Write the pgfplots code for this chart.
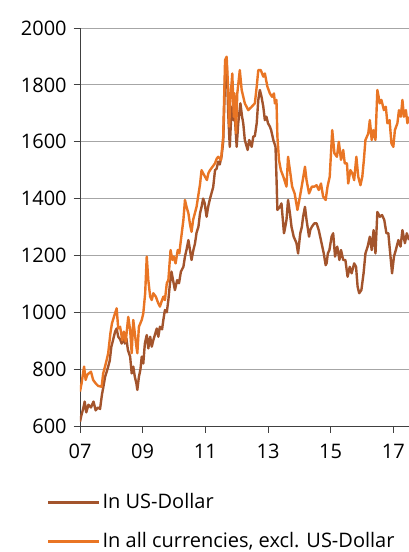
\documentclass[border=0pt]{standalone}
\usepackage{fontspec}
\setmainfont{Open Sans}
\usepackage{pgfplots}
\pgfplotsset{compat=1.18}
\definecolor{usd}{RGB}{163,84,44}
\definecolor{oth}{RGB}{233,117,36}
\begin{document}
\fontsize{20}{24}\selectfont
\begin{tikzpicture}
\begin{axis}[
 scale only axis, width=329pt, height=398pt,
 xmin=2007, xmax=2017.5, ymin=600, ymax=2000,
 axis lines*=left,
 axis line style={draw=black!75, line width=0.8pt},
 xtick={2007,2009,2011,2013,2015,2017}, xticklabels={07,09,11,13,15,17},
 ytick={600,800,...,2000},
 ymajorgrids, grid style={black!35, line width=0.8pt},
 tick align=outside, major tick length=6.5pt,
 tick style={black!75, line width=0.8pt},
 /pgf/number format/assume math mode=true,
 /pgf/number format/1000 sep={},
 ticklabel style={font=\fontsize{20}{24}\selectfont},
 xticklabel style={yshift=-5pt},
 legend cell align=left,
 legend style={draw=none, fill=none, at={(0,0)}, anchor=north west, xshift=-36pt, yshift=-63pt, row sep=17pt, font=\fontsize{20}{24}\selectfont},
 legend image code/.code={\draw[#1] (0pt,0pt) -- (51pt,0pt);},
 every axis plot/.append style={line width=2.4pt, line join=round},
]
\addplot[usd] coordinates {
(2007.00,615)(2007.05,640)(2007.10,660)(2007.15,686)(2007.20,648)(2007.27,675)(2007.35,665)(2007.43,686)(2007.50,655)(2007.57,665)(2007.64,660)(2007.70,710)(2007.75,740)(2007.80,773)(2007.85,790)(2007.90,809)(2007.95,830)
(2008.00,879)(2008.05,900)(2008.12,932)(2008.17,943)(2008.22,914)(2008.28,905)(2008.33,890)(2008.38,926)(2008.43,890)(2008.48,908)(2008.53,867)(2008.60,844)(2008.65,785)(2008.70,809)(2008.75,773)(2008.80,750)(2008.83,727)(2008.88,773)(2008.93,800)(2008.97,844)
(2009.02,820)(2009.07,890)(2009.13,920)(2009.18,873)(2009.24,914)(2009.29,879)(2009.34,902)(2009.45,943)(2009.50,914)(2009.55,949)(2009.62,940)(2009.66,973)(2009.71,1008)(2009.77,1000)(2009.82,1043)(2009.87,1100)(2009.92,1143)(2009.97,1113)
(2010.03,1078)(2010.10,1113)(2010.16,1102)(2010.22,1143)(2010.30,1160)(2010.35,1196)(2010.40,1220)(2010.46,1254)(2010.51,1219)(2010.56,1184)(2010.62,1220)(2010.67,1242)(2010.72,1280)(2010.78,1301)(2010.83,1348)(2010.88,1371)(2010.93,1400)(2010.98,1383)
(2011.04,1336)(2011.09,1371)(2011.15,1400)(2011.20,1420)(2011.25,1440)(2011.31,1500)(2011.36,1505)(2011.41,1530)(2011.46,1520)(2011.52,1550)(2011.57,1600)(2011.63,1820)(2011.68,1880)(2011.73,1700)(2011.78,1582)(2011.84,1723)(2011.89,1676)(2011.93,1711)
(2012.00,1582)(2012.05,1665)(2012.12,1735)(2012.17,1690)(2012.21,1665)(2012.26,1606)(2012.35,1571)(2012.40,1606)(2012.48,1582)(2012.53,1618)(2012.58,1620)(2012.64,1665)(2012.69,1747)(2012.74,1782)(2012.79,1760)(2012.85,1723)(2012.90,1676)(2012.95,1688)
(2013.00,1665)(2013.06,1653)(2013.10,1641)(2013.17,1606)(2013.24,1582)(2013.27,1477)(2013.30,1360)(2013.38,1371)(2013.43,1383)(2013.47,1330)(2013.51,1278)(2013.55,1300)(2013.59,1325)(2013.64,1395)(2013.70,1348)(2013.75,1301)(2013.82,1266)(2013.91,1243)(2013.96,1207)
(2014.03,1278)(2014.08,1300)(2014.12,1336)(2014.18,1371)(2014.23,1325)(2014.31,1266)(2014.35,1290)(2014.40,1301)(2014.48,1313)(2014.55,1313)(2014.62,1289)(2014.71,1243)(2014.78,1207)(2014.84,1166)(2014.87,1172)(2014.91,1207)(2014.96,1219)
(2015.03,1266)(2015.08,1278)(2015.14,1196)(2015.21,1231)(2015.28,1184)(2015.33,1219)(2015.40,1184)(2015.47,1184)(2015.54,1125)(2015.61,1160)(2015.67,1137)(2015.75,1172)(2015.81,1160)(2015.86,1090)(2015.91,1067)(2015.98,1078)
(2016.05,1137)(2016.11,1207)(2016.18,1231)(2016.25,1266)(2016.31,1219)(2016.37,1289)(2016.43,1207)(2016.49,1353)(2016.57,1336)(2016.64,1342)(2016.71,1325)(2016.78,1278)(2016.84,1278)(2016.90,1207)(2016.96,1137)
(2017.02,1196)(2017.08,1219)(2017.16,1254)(2017.23,1231)(2017.29,1289)(2017.37,1243)(2017.43,1278)(2017.50,1254)
};
\addlegendentry{In US-Dollar}
\addplot[oth] coordinates {
(2007.00,721)(2007.05,750)(2007.13,809)(2007.18,762)(2007.23,780)(2007.28,785)(2007.35,791)(2007.42,762)(2007.50,750)(2007.58,741)(2007.69,738)(2007.74,785)(2007.80,810)(2007.85,832)(2007.90,856)(2007.97,926)
(2008.02,961)(2008.10,990)(2008.17,1014)(2008.22,943)(2008.28,949)(2008.35,902)(2008.40,932)(2008.46,897)(2008.54,984)(2008.60,938)(2008.65,856)(2008.70,973)(2008.75,926)(2008.80,879)(2008.83,856)(2008.88,949)(2008.97,973)
(2009.02,996)(2009.08,1067)(2009.13,1196)(2009.18,1113)(2009.24,1055)(2009.29,1043)(2009.34,1067)(2009.42,1055)(2009.50,1031)(2009.55,1020)(2009.61,1040)(2009.66,1055)(2009.71,1043)(2009.77,1102)(2009.82,1113)(2009.89,1219)(2009.95,1184)(2009.99,1196)
(2010.05,1172)(2010.12,1219)(2010.17,1207)(2010.22,1254)(2010.30,1325)(2010.35,1395)(2010.40,1371)(2010.46,1348)(2010.51,1310)(2010.56,1283)(2010.61,1325)(2010.72,1371)(2010.77,1407)(2010.83,1450)(2010.88,1500)(2010.93,1489)(2010.99,1477)
(2011.05,1465)(2011.10,1490)(2011.15,1500)(2011.31,1524)(2011.36,1540)(2011.41,1547)(2011.50,1536)(2011.57,1618)(2011.63,1887)(2011.68,1899)(2011.73,1782)(2011.76,1653)(2011.80,1747)(2011.86,1840)(2011.91,1688)(2011.93,1770)(2011.98,1630)
(2012.02,1770)(2012.10,1852)(2012.16,1782)(2012.26,1735)(2012.37,1711)(2012.48,1723)(2012.58,1735)(2012.64,1794)(2012.69,1852)(2012.77,1852)(2012.85,1829)(2012.90,1840)(2012.98,1794)
(2013.06,1770)(2013.13,1758)(2013.19,1770)(2013.22,1735)(2013.27,1747)(2013.30,1618)(2013.35,1536)(2013.41,1500)(2013.49,1477)(2013.59,1442)(2013.64,1547)(2013.70,1500)(2013.77,1442)(2013.85,1418)(2013.94,1360)
(2014.02,1407)(2014.11,1465)(2014.18,1512)(2014.23,1465)(2014.31,1418)(2014.40,1442)(2014.48,1442)(2014.55,1447)(2014.62,1430)(2014.69,1453)(2014.76,1407)(2014.84,1395)(2014.90,1442)(2014.97,1477)
(2015.05,1641)(2015.12,1559)(2015.20,1547)(2015.26,1600)(2015.33,1536)(2015.40,1571)(2015.45,1524)(2015.52,1524)(2015.56,1453)(2015.63,1500)(2015.69,1489)(2015.75,1465)(2015.82,1547)(2015.88,1477)(2015.95,1447)
(2016.01,1477)(2016.06,1536)(2016.11,1606)(2016.20,1629)(2016.25,1676)(2016.31,1606)(2016.36,1641)(2016.43,1606)(2016.49,1782)(2016.57,1735)(2016.62,1747)(2016.70,1711)(2016.76,1723)(2016.81,1665)(2016.88,1676)(2016.94,1594)
(2017.00,1582)(2017.05,1641)(2017.13,1665)(2017.18,1711)(2017.24,1688)(2017.29,1747)(2017.34,1688)(2017.40,1711)(2017.45,1665)(2017.50,1688)
};
\addlegendentry{In all currencies, excl. US-Dollar}
\end{axis}
\pgfresetboundingbox
\path[use as bounding box] ([xshift=-80pt,yshift=-126pt]current axis.south west) rectangle ++(409pt,552pt);
\end{tikzpicture}
\end{document}
